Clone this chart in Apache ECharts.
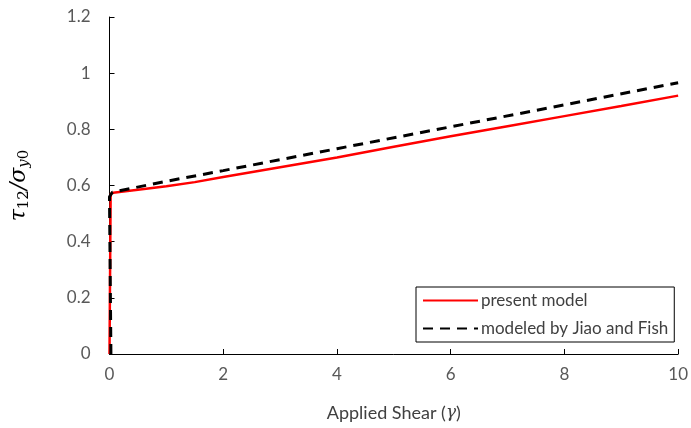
<!DOCTYPE html>
<html>
<head>
<meta charset="utf-8">
<script src="https://cdn.jsdelivr.net/npm/echarts@6/dist/echarts.min.js"></script>
<style>
  html, body { margin: 0; padding: 0; background: #fff; }
  #chart { width: 691px; height: 428px; }
</style>
</head>
<body>
<div id="chart"></div>
<script>
// applied shear (gamma) vs normalised stress
const presentX = [0, 0.02, 0.065, 0.5, 1, 1.5, 2, 3, 4, 5, 6, 7, 8, 9, 10];
const presentY = [0, 0.57, 0.574, 0.585, 0.597, 0.612, 0.63, 0.665, 0.70, 0.738, 0.775, 0.811, 0.847, 0.883, 0.92];

const jiaoX = [0.025, 0, 0.05, 1, 2, 4, 6, 8, 10];
const jiaoY = [0, 0.56, 0.576, 0.615, 0.653, 0.731, 0.809, 0.887, 0.966];

const xTicks = [0, 2, 4, 6, 8, 10];
const yTicks = [0, 0.2, 0.4, 0.6, 0.8, 1, 1.2];

const pair = (xs, ys) => xs.map((x, i) => [x, ys[i]]);

const chart = echarts.init(document.getElementById('chart'));

const labelFont = 'Lato, "Open Sans", sans-serif';

chart.setOption({
    animation: false,
    grid: {
        left: 107,
        right: 11,
        top: 17,
        bottom: 74,
        containLabel: false
    },
    legend: {
        left: 416,
        top: 287,
        width: 267,
        orient: 'vertical',
        itemWidth: 55,
        itemHeight: 14,
        itemGap: 11,
        padding: [5, 6, 5, 6],
        borderColor: '#000',
        borderWidth: 1,
        itemStyle: { opacity: 0 },
        textStyle: {
            fontFamily: labelFont,
            fontSize: 17,
            color: '#404040',
            padding: [0, 0, 0, -2]
        },
        data: ['present model', 'modeled by Jiao and Fish']
    },
    xAxis: {
        type: 'value',
        min: xTicks[0],
        max: xTicks[xTicks.length - 1],
        interval: 2,
        name: 'Applied Shear ({i|γ})',
        nameLocation: 'middle',
        nameGap: 50,
        nameTextStyle: {
            fontFamily: labelFont,
            fontSize: 18,
            color: '#404040',
            rich: {
                i: { fontFamily: 'DejaVu Serif', fontStyle: 'italic', fontSize: 17, color: '#404040' }
            }
        },
        axisLine: { show: true, lineStyle: { color: '#000', width: 1 } },
        axisTick: { show: true, inside: true, length: 5, lineStyle: { color: '#000' } },
        axisLabel: {
            margin: 12,
            fontFamily: labelFont,
            fontSize: 17,
            color: '#595959'
        },
        splitLine: { show: false }
    },
    yAxis: {
        type: 'value',
        min: yTicks[0],
        max: yTicks[yTicks.length - 1],
        interval: 0.2,
        name: '{t|τ}{u|12}{t|/σ}{s|y}{u|0}',
        nameLocation: 'middle',
        nameRotate: 90,
        nameGap: 78,
        nameTextStyle: {
            rich: {
                t: { fontFamily: 'DejaVu Serif', fontStyle: 'italic', fontSize: 22, color: '#000' },
                s: { fontFamily: 'DejaVu Serif', fontStyle: 'italic', fontSize: 15, color: '#000', padding: [10, 0, 0, 0] },
                u: { fontFamily: 'DejaVu Serif', fontSize: 15, color: '#000', padding: [10, 0, 0, 0] }
            }
        },
        axisLine: { show: true, lineStyle: { color: '#000', width: 1 } },
        axisTick: { show: true, inside: true, length: 5, lineStyle: { color: '#000' } },
        axisLabel: {
            margin: 19,
            fontFamily: labelFont,
            fontSize: 17,
            color: '#595959'
        },
        splitLine: { show: false }
    },
    series: [
        {
            name: 'present model',
            type: 'line',
            symbol: 'none',
            smooth: false,
            data: pair(presentX, presentY),
            lineStyle: { color: '#ff0000', width: 2.5 },
            itemStyle: { color: '#ff0000' },
            z: 2
        },
        {
            name: 'modeled by Jiao and Fish',
            type: 'line',
            symbol: 'none',
            data: pair(jiaoX, jiaoY),
            lineStyle: { color: '#000', width: 3, type: [10, 7] },
            itemStyle: { color: '#000' },
            z: 3
        }
    ]
});
</script>
</body>
</html>
